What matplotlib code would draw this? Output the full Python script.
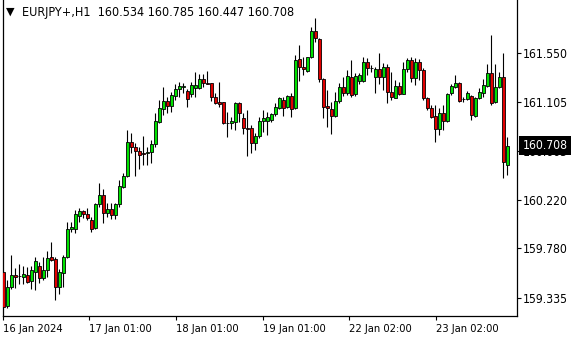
import matplotlib
matplotlib.use("Agg")
import matplotlib.pyplot as plt
import matplotlib.transforms as mtransforms
import numpy as np

# EURJPY+ H1 candles
opens = [
    159.570, 159.260, 159.429, 159.540, 159.531, 159.519, 159.540, 159.488, 159.570, 159.621,
    159.510, 159.585, 159.700, 159.682, 159.434, 159.561, 159.700, 159.956, 159.956, 160.076,
    160.119, 160.092, 160.037, 159.968, 160.179, 160.263, 160.103, 160.139, 160.085, 160.179,
    160.338, 160.438, 160.743, 160.695, 160.658, 160.640, 160.640, 160.649, 160.722, 160.926,
    161.038, 161.113, 161.068, 161.161, 161.219, 161.243, 161.204, 161.174, 161.228, 161.234,
    161.310, 161.273, 161.273, 161.152, 161.104, 161.102, 160.912, 160.912, 160.926, 161.093,
    160.957, 160.866, 160.866, 160.731, 160.797, 160.932, 160.935, 160.942, 160.996, 161.047,
    161.122, 161.062, 161.158, 161.047, 161.490, 161.423, 161.387, 161.508, 161.746, 161.674,
    161.310, 161.068, 161.041, 160.978, 161.116, 161.243, 161.183, 161.333, 161.177, 161.297,
    161.297, 161.469, 161.414, 161.328, 161.400, 161.333, 161.423, 161.197, 161.143, 161.252,
    161.179, 161.403, 161.484, 161.324, 161.463, 161.394, 161.143, 161.047, 160.980, 160.857,
    161.002, 160.932, 161.183, 161.243, 161.273, 161.131, 161.131, 161.161, 160.980, 161.138,
    161.183, 161.249, 161.364, 161.102, 161.237, 161.333, 160.534,
]
closes = [
    159.253, 159.429, 159.537, 159.519, 159.533, 159.549, 159.479, 159.585, 159.669, 159.516,
    159.585, 159.691, 159.676, 159.434, 159.567, 159.705, 159.956, 159.977, 160.089, 160.121,
    160.094, 160.058, 159.959, 160.179, 160.263, 160.103, 160.139, 160.085, 160.182, 160.345,
    160.435, 160.743, 160.695, 160.658, 160.628, 160.638, 160.652, 160.722, 160.932, 161.047,
    161.113, 161.071, 161.168, 161.219, 161.249, 161.245, 161.129, 161.258, 161.258, 161.310,
    161.273, 161.271, 161.152, 161.098, 161.089, 160.912, 160.910, 160.932, 161.093, 161.008,
    160.866, 160.864, 160.731, 160.797, 160.932, 160.957, 160.966, 160.996, 161.056, 161.138,
    161.047, 161.158, 161.038, 161.484, 161.418, 161.400, 161.508, 161.746, 161.680, 161.310,
    161.062, 161.047, 160.978, 161.116, 161.237, 161.183, 161.342, 161.168, 161.342, 161.348,
    161.469, 161.409, 161.416, 161.400, 161.333, 161.423, 161.197, 161.152, 161.252, 161.179,
    161.403, 161.484, 161.324, 161.463, 161.394, 161.143, 161.047, 160.971, 160.857, 161.002,
    160.932, 161.174, 161.249, 161.273, 161.113, 161.133, 161.183, 160.987, 161.138, 161.192,
    161.258, 161.364, 161.093, 161.237, 161.333, 160.564, 160.708,
]
highs = [
    159.576, 159.495, 159.721, 159.601, 159.637, 159.621, 159.615, 159.621, 159.705, 159.660,
    159.705, 159.760, 159.841, 159.705, 159.592, 159.721, 160.022, 160.022, 160.128, 160.143,
    160.128, 160.143, 160.062, 160.188, 160.375, 160.318, 160.194, 160.194, 160.188, 160.399,
    160.460, 160.851, 160.827, 160.731, 160.700, 160.797, 160.700, 160.761, 161.002, 161.122,
    161.237, 161.152, 161.197, 161.264, 161.288, 161.279, 161.222, 161.288, 161.378, 161.357,
    161.357, 161.385, 161.273, 161.188, 161.288, 161.107, 161.017, 160.971, 161.107, 161.107,
    161.002, 161.032, 160.896, 160.827, 160.971, 161.032, 161.017, 161.002, 161.093, 161.152,
    161.147, 161.168, 161.183, 161.529, 161.620, 161.514, 161.514, 161.785, 161.861, 161.680,
    161.319, 161.213, 161.107, 161.197, 161.273, 161.333, 161.394, 161.484, 161.364, 161.369,
    161.508, 161.499, 161.439, 161.423, 161.550, 161.460, 161.448, 161.378, 161.303, 161.288,
    161.469, 161.499, 161.514, 161.499, 161.493, 161.409, 161.152, 161.077, 161.077, 161.047,
    161.077, 161.183, 161.264, 161.348, 161.282, 161.152, 161.204, 161.168, 161.152, 161.228,
    161.312, 161.445, 161.710, 161.445, 161.378, 161.545, 160.785,
]
lows = [
    159.251, 159.239, 159.411, 159.420, 159.459, 159.459, 159.465, 159.411, 159.404, 159.470,
    159.495, 159.519, 159.667, 159.314, 159.368, 159.429, 159.691, 159.932, 159.917, 160.022,
    160.053, 160.037, 159.929, 159.959, 160.152, 160.013, 160.062, 160.046, 160.044, 160.152,
    160.324, 160.423, 160.646, 160.435, 160.501, 160.535, 160.535, 160.550, 160.700, 160.912,
    160.987, 161.002, 161.017, 161.122, 161.152, 161.183, 161.062, 161.152, 161.152, 161.219,
    161.237, 161.264, 161.116, 161.086, 161.062, 160.905, 160.791, 160.860, 160.851, 160.926,
    160.815, 160.616, 160.640, 160.670, 160.776, 160.836, 160.806, 160.926, 160.978, 161.038,
    160.978, 161.047, 160.971, 161.038, 161.297, 161.348, 161.378, 161.499, 161.649, 161.288,
    160.957, 160.881, 160.815, 160.966, 161.098, 161.158, 161.168, 161.152, 161.158, 161.267,
    161.288, 161.348, 161.378, 161.183, 161.267, 161.213, 161.093, 161.122, 161.138, 161.168,
    161.174, 161.378, 161.288, 161.258, 161.303, 161.122, 161.032, 160.957, 160.745, 160.806,
    160.851, 160.926, 161.168, 161.228, 161.107, 161.107, 161.122, 160.942, 160.971, 161.131,
    161.152, 161.243, 161.077, 161.093, 161.228, 160.414, 160.447,
]

price_ticks = [159.335, 159.780, 160.220, 160.663, 161.105, 161.550]
time_labels = ["16 Jan 2024", "17 Jan 01:00", "18 Jan 01:00",
               "19 Jan 01:00", "22 Jan 02:00", "23 Jan 02:00"]
time_label_bars = [0, 21.5, 43.2, 64.9, 86.4, 108.1]

symbol = "EURJPY+,H1"
last_ohlc = [opens[-1], highs[-1], lows[-1], closes[-1]]

XFONT = dict(family="DejaVu Sans", fontstretch="condensed", size=8.0)
YFONT = dict(family="DejaVu Sans", fontstretch="condensed", size=8.7)
TFONT = dict(family="DejaVu Sans", fontstretch="condensed", size=9.0)

fig = plt.figure(figsize=(5.8, 3.4), dpi=100)
W, H = 580, 340
ax = fig.add_axes([2.5 / W, 24 / H, 514.2 / W, 316 / H])

o = np.array(opens)
c = np.array(closes)
hi = np.array(highs)
lo = np.array(lows)
x = np.arange(len(o))

up_col = "#00e000"
dn_col = "#e00000"
colors = [up_col if cc >= oo else dn_col for oo, cc in zip(o, c)]

ax.vlines(x, lo, hi, color="black", linewidth=0.8, zorder=2)
bottoms = np.minimum(o, c)
heights = np.maximum(np.abs(c - o), 0.0005)
ax.bar(x, heights, bottom=bottoms, width=0.68, color=colors,
       edgecolor="black", linewidth=0.6, zorder=3)

ax.set_xlim(-0.2, 128.35)
ax.set_ylim(159.169, 162.0265)

ax.spines["top"].set_visible(False)
for s in ["left", "right", "bottom"]:
    ax.spines[s].set_linewidth(0.9)
    ax.spines[s].set_color("black")

ax.yaxis.tick_right()
ax.set_yticks(price_ticks)
ax.set_yticklabels([f"{p:.3f}" for p in price_ticks], **YFONT)
ax.tick_params(axis="y", direction="out", length=3, width=0.8, pad=1.5, colors="black")

ax.set_xticks(time_label_bars)
ax.set_xticklabels(time_labels, **XFONT)
for lab in ax.get_xticklabels():
    lab.set_horizontalalignment("left")
ax.tick_params(axis="x", direction="out", length=3, width=0.8, pad=2.5, colors="black")

# header line
fig.text(5.5 / W, 1 - 12.0 / H, "\u25bc", fontsize=8, va="center", ha="left")
fig.text(21.5 / W, 1 - 12.3 / H,
         f"{symbol}  " + " ".join(f"{v:.3f}" for v in last_ohlc),
         va="center", ha="left", **TFONT)

# last price marker on the price scale
trans = mtransforms.blended_transform_factory(fig.transFigure, ax.transData)
fig.text(522.5 / W, closes[-1], f"{closes[-1]:.3f}", transform=trans,
         va="center", ha="left", color="white",
         bbox=dict(boxstyle="square,pad=0.25", fc="black", ec="none"), **YFONT)

fig.savefig("out.png", dpi=100)
